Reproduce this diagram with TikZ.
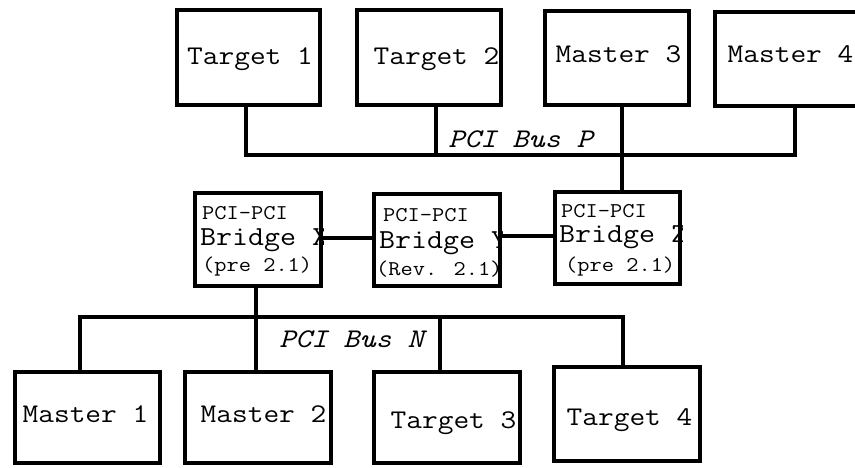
\documentclass[tikz,border=0pt]{standalone}
\usepackage{fontspec}
\newcommand{\widetxt}[1]{\scalebox{1.13}[1]{#1}}
\begin{document}
\begin{tikzpicture}[x=1pt,y=-1pt,
  box/.style={draw=black,line width=4pt,rectangle,inner sep=0pt},
  wire/.style={draw=black,line width=4pt},
  big/.style={inner sep=0pt,anchor=base,font=\ttfamily\fontsize{27}{30}\selectfont},
  buslbl/.style={inner sep=0pt,anchor=base,font=\ttfamily\itshape\fontsize{27}{30}\selectfont},
  small/.style={inner sep=0pt,anchor=base west,font=\ttfamily\fontsize{21}{24}\selectfont},
  mid/.style={inner sep=0pt,anchor=base west,font=\ttfamily\fontsize{27.5}{30}\selectfont}]
\useasboundingbox (0,0) rectangle (855,468);
% top row
\node[box,minimum width=143pt,minimum height=95pt] (t1) at (248.5,57.5) {};
\node[box,minimum width=144pt,minimum height=95pt] (t2) at (429,57.5) {};
\node[box,minimum width=144pt,minimum height=94pt] (m3) at (617,58) {};
\node[box,minimum width=144pt,minimum height=94pt] (m4) at (787,59) {};
% bridges
\node[box,minimum width=126pt,minimum height=93pt] (bx) at (258,239.5) {};
\node[box,minimum width=126pt,minimum height=92pt] (by) at (437,240) {};
\node[box,minimum width=125pt,minimum height=92pt] (bz) at (617.5,238) {};
% bottom row
\node[box,minimum width=145pt,minimum height=91pt] (m1) at (87.5,417.5) {};
\node[box,minimum width=146pt,minimum height=91pt] (m2) at (258,417.5) {};
\node[box,minimum width=146pt,minimum height=91pt] (t3) at (447,417.5) {};
\node[box,minimum width=146pt,minimum height=94pt] (t4) at (627,414) {};
% labels
\begin{scope}\clip (t1.south west) rectangle (t1.north east);
\node[big] (lt1) at (250,65) {\widetxt{Target 1}};\end{scope}
\begin{scope}\clip (t2.south west) rectangle (t2.north east);
\node[big] (lt2) at (436.5,65) {\widetxt{Target 2}};\end{scope}
\begin{scope}\clip (m3.south west) rectangle (m3.north east);
\node[big] (lm3) at (618.5,63) {\widetxt{Master 3}};\end{scope}
\node[big] (lm4) at (790.5,63) {\widetxt{Master 4}};
\begin{scope}\clip (m1.south west) rectangle (m1.north east);
\node[big] (lm1) at (85.5,422) {\widetxt{Master 1}};\end{scope}
\begin{scope}\clip (m2.south west) rectangle (m2.north east);
\node[big] (lm2) at (263.5,422) {\widetxt{Master 2}};\end{scope}
\begin{scope}\clip (t3.south west) rectangle (t3.north east);
\node[big] (lt3) at (453.5,428) {\widetxt{Target 3}};\end{scope}
\begin{scope}\clip (t4.south west) rectangle (t4.north east);
\node[big] (lt4) at (629.5,425) {\widetxt{Target 4}};\end{scope}
\begin{scope}\clip (bx.south west) rectangle (bx.north east);
\node[small] (bx1) at (202,220) {\widetxt{PCI-PCI}};
\node[mid] (bx2) at (200,245) {\widetxt{Bridge X}};
\node[small] (bx3) at (202,272) {\widetxt{(pre 2.1)}};
\end{scope}
\begin{scope}\clip (by.south west) rectangle (by.north east);
\node[small] (by1) at (383,222) {\widetxt{PCI-PCI}};
\node[mid] (by2) at (379,248) {\widetxt{Bridge Y}};
\node[small] (by3) at (376,275) {\widetxt{(Rev. 2.1)}};
\end{scope}
\begin{scope}\clip (bz.south west) rectangle (bz.north east);
\node[small] (bz1) at (561,218) {\widetxt{PCI-PCI}};
\node[mid] (bz2) at (559,243) {\widetxt{Bridge Z}};
\node[small] (bz3) at (565,272) {\widetxt{(pre 2.1)}};
\end{scope}
\node[buslbl] (lbp) at (520.5,148) {\widetxt{PCI Bus P}};
\node[buslbl] (lbn) at (351.5,347) {\widetxt{PCI Bus N}};
% bus P
\coordinate (pL) at (246,155);
\coordinate (pR) at (795,155);
\coordinate (pT2) at (436,155);
\coordinate (pM3) at (622,155);
\draw[wire] (t1.south -| pL) -- (pL) -- (pR) -- (pR |- m4.south);
\draw[wire] (t2.south -| pT2) -- (pT2);
\draw[wire] (m3.south -| pM3) -- (pM3 |- bz.north);
% bridge links
\coordinate (cXY) at (0,238);
\coordinate (cYZ) at (0,236);
\draw[wire] (bx.east |- cXY) -- (by.west |- cXY);
\draw[wire] (by.east |- cYZ) -- (bz.west |- cYZ);
% bus N
\coordinate (nL) at (80,317);
\coordinate (nR) at (623,317);
\coordinate (nX) at (255.5,317);
\coordinate (nT3) at (440,317);
\draw[wire] (m1.north -| nL) -- (nL) -- (nR) -- (nR |- t4.north);
\draw[wire] (bx.south -| nX) -- (nX |- m2.north);
\draw[wire] (nT3) -- (nT3 |- t3.north);
\end{tikzpicture}
\end{document}
